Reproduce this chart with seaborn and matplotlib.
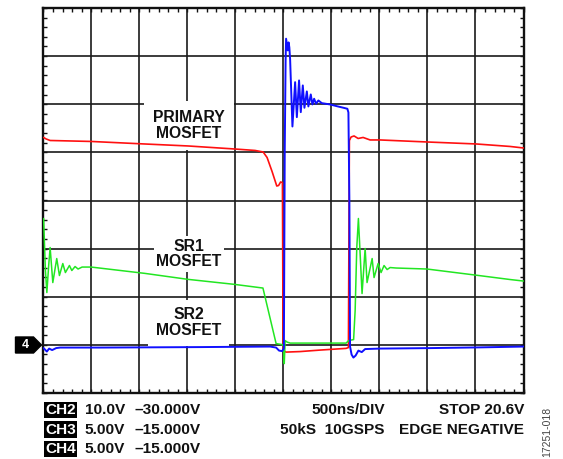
import numpy as np
import pandas as pd
import matplotlib
matplotlib.use("Agg")
import matplotlib.pyplot as plt
from matplotlib.patches import Polygon
import seaborn as sns

# ---------------- data (time in ns from trigger, amplitude in screen divisions) ----------------
ch2_t = [-2497, -2471, -2429, -2002, -1450, -992, -513, -295, -211, -170, -118, -69, -50, -29, -10,
         -3, 28, 174, 382, 653, 677, 687, 705, 736, 778, 830, 903, 1007, 1496, 2006, 2360, 2501]
ch2_v = [1.310, 1.279, 1.247, 1.227, 1.175, 1.133, 1.071, 1.040, 1.008, 0.894, 0.603, 0.301, 0.312, 0.385, 0.374,
         -3.119, -3.150, -3.139, -3.108, -3.073, -3.056, 1.247, 1.320, 1.341, 1.289, 1.310, 1.258, 1.258, 1.216, 1.175, 1.123, 1.091]

ch3_t = [-2497, -2478, -2463, -2444, -2429, -2401, -2360, -2332, -2297, -2270, -2228, -2203, -2169, -2138, -2096,
         -2002, -1444, -996, -513, -213, -76, -14, 2, 9, 18, 39, 70, 653, 679, 731, 747, 764, 781, 819, 851,
         871, 924, 944, 986, 1017, 1048, 1080, 1111, 1173, 1496, 1996, 2360, 2501]
ch3_v = [-0.374, -1.455, -1.913, -1.351, -0.977, -1.705, -1.206, -1.559, -1.310, -1.497, -1.351, -1.455, -1.372, -1.424, -1.383,
         -1.383, -1.514, -1.638, -1.742, -1.819, -2.973, -2.994, -3.025, -3.389, -2.911, -2.942, -2.963, -2.963, -2.911, -2.890, -2.287, -0.977, -0.374, -1.933, -0.998,
         -1.705, -1.206, -1.601, -1.310, -1.497, -1.351, -1.435, -1.393, -1.403, -1.424, -1.549, -1.642, -1.674]

ch4_t = [-2497, -2463, -2439, -2408, -2366, -2325, -1908, -867, -138, -76, -45, -14, 5, 14, 23, 28, 46, 54, 62, 70,
         94, 122, 140, 163, 181, 202, 219, 244, 260, 285, 302, 320, 340, 364, 400, 486, 556, 625, 666, 677,
         687, 694, 710, 729, 752, 781, 816, 851, 1007, 1527, 2048, 2501]
ch4_v = [-3.067, -3.139, -3.077, -3.108, -3.067, -3.056, -3.056, -3.046, -3.035, -3.056, -3.119, -3.129, -3.077, 1.040, 2.911, 3.362, 3.119, 3.285, 3.181, 2.931,
         1.538, 2.459, 1.732, 2.495, 1.836, 2.391, 1.927, 2.266, 1.954, 2.204, 1.996, 2.114, 2.010, 2.079, 2.023, 1.996, 1.960, 1.927, 1.906, 1.830,
         0.000, -3.035, -3.202, -3.264, -3.222, -3.119, -3.150, -3.087, -3.077, -3.067, -3.052, -3.035]

trace_labels = ["PRIMARY\nMOSFET", "SR1\nMOSFET", "SR2\nMOSFET"]
label_t = [-985, -985, -985]
label_v = [1.561, -1.110, -2.541]

ch_names = ["CH2", "CH3", "CH4"]
ch_scale = ["10.0V", "5.00V", "5.00V"]
ch_offset = ["\u201330.000V", "\u201315.000V", "\u201315.000V"]
timebase = "500ns/DIV"
status = "STOP 20.6V"
acq = "50kS  10GSPS"
trig = "EDGE NEGATIVE"
fig_id = "17251-018"

# ---------------- figure ----------------
sns.set_theme(style="white")
plt.rcParams["font.family"] = ["Liberation Sans", "DejaVu Sans"]

W, H = 563, 459
fig = plt.figure(figsize=(W / 100, H / 100), dpi=100)
fig.patch.set_facecolor("white")
L, R, T, B = 43.3, 523.5, 8.0, 393.0
rect = [L / W, 1 - B / H, (R - L) / W, (B - T) / H]

# background axes: center cross with ticks
ax2 = fig.add_axes(rect, zorder=1)
ax2.set_xlim(-2500, 2500)
ax2.set_ylim(-4, 4)
for s in ["top", "right"]:
    ax2.spines[s].set_visible(False)
ax2.spines["left"].set_position(("data", 0))
ax2.spines["bottom"].set_position(("data", 0))
for s in ["left", "bottom"]:
    ax2.spines[s].set_linewidth(1.2)
    ax2.spines[s].set_color("#1a1a1a")
ax2.set_xticks([])
ax2.set_yticks([])
ax2.set_xticks(np.arange(-2500, 2501, 100), minor=True)
ax2.set_yticks(np.arange(-4, 4.01, 0.2), minor=True)
ax2.tick_params(which="minor", direction="inout", length=4.5, width=1.0, color="#1a1a1a",
                labelbottom=False, labelleft=False)
ax2.patch.set_visible(False)

# main axes
ax = fig.add_axes(rect, zorder=2)
ax.patch.set_alpha(0)
ax.set_xlim(-2500, 2500)
ax.set_ylim(-4, 4)
for t in range(-2000, 2001, 500):
    if t != 0:
        ax.axvline(t, color="#1a1a1a", lw=1.2, zorder=1)
for v in range(-3, 4):
    if v != 0:
        ax.axhline(v, color="#1a1a1a", lw=1.2, zorder=1)

for s in ax.spines.values():
    s.set_linewidth(1.7)
    s.set_color("#111111")
    s.set_visible(True)
ax.set_xticks([])
ax.set_yticks([])
ax.set_xticks(np.arange(-2500, 2501, 100), minor=True)
ax.set_yticks(np.arange(-4, 4.01, 0.2), minor=True)
ax.tick_params(which="minor", direction="in", length=3.2, width=1.0, color="#111111",
               top=True, bottom=True, left=True, right=True,
               labelbottom=False, labelleft=False)

# labels with white boxes (behind traces)
pads = [0.6, 0.15, 0.5]
for lab, tx, vy, pd_ in zip(trace_labels, label_t, label_v, pads):
    ax.text(tx, vy, lab, ha="center", va="center", fontsize=11.3, fontweight="bold",
            color="#111111", linespacing=1.05, zorder=3,
            bbox=dict(boxstyle=f"square,pad={pd_}", facecolor="white", edgecolor="none"))

df2 = pd.DataFrame({"t": ch2_t, "v": ch2_v})
df3 = pd.DataFrame({"t": ch3_t, "v": ch3_v})
df4 = pd.DataFrame({"t": ch4_t, "v": ch4_v})
sns.lineplot(data=df2, x="t", y="v", ax=ax, color="#ff1010", lw=1.2, sort=False, estimator=None, zorder=4)
sns.lineplot(data=df3, x="t", y="v", ax=ax, color="#22e622", lw=1.1, sort=False, estimator=None, zorder=5)
sns.lineplot(data=df4, x="t", y="v", ax=ax, color="#1010ff", lw=1.4, sort=False, estimator=None, zorder=6)
ax.set_xlim(-2500, 2500)
ax.set_ylim(-4, 4)
ax.set_xlabel("")
ax.set_ylabel("")

# channel 4 ground marker
pts = [(15.5, 337), (33.5, 337), (41.5, 345), (33.5, 353), (15.5, 353)]
poly = Polygon([(x / W, 1 - y / H) for x, y in pts], closed=True, transform=fig.transFigure,
               facecolor="black", edgecolor="black", zorder=10)
fig.patches.append(poly)
fig.text(25 / W, 1 - 345 / H, "4", color="white", fontsize=9, fontweight="bold",
         ha="center", va="center", zorder=11)

# bottom readout
rows_y = [410, 429.5, 449]
for name, sc, off, yy in zip(ch_names, ch_scale, ch_offset, rows_y):
    fy = 1 - yy / H
    fig.text(45.0 / W, fy, name, color="white", fontsize=11.1, fontweight="bold", ha="left", va="center",
             bbox=dict(boxstyle="square,pad=0.08", facecolor="black", edgecolor="none"))
    fig.text(84.5 / W, fy, sc, color="#111111", fontsize=11.1, fontweight="bold", ha="left", va="center")
    fig.text(134.6 / W, fy, off, color="#111111", fontsize=11.1, fontweight="bold", ha="left", va="center")

fig.text(385 / W, 1 - rows_y[0] / H, timebase, color="#111111", fontsize=11.1, fontweight="bold", ha="right", va="center")
fig.text(524 / W, 1 - rows_y[0] / H, status, color="#111111", fontsize=11.1, fontweight="bold", ha="right", va="center")
fig.text(385 / W, 1 - rows_y[1] / H, acq, color="#111111", fontsize=11.1, fontweight="bold", ha="right", va="center")
fig.text(524 / W, 1 - rows_y[1] / H, trig, color="#111111", fontsize=11.1, fontweight="bold", ha="right", va="center")
fig.text(547 / W, 1 - 432 / H, fig_id, color="#444444", fontsize=7.5, rotation=90, ha="center", va="center")

fig.savefig("out.png", dpi=100, facecolor="white")
